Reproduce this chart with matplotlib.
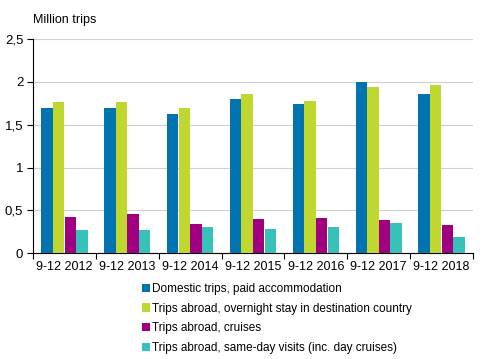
import numpy as np
import matplotlib.pyplot as plt
from matplotlib.ticker import FuncFormatter

plt.rcParams['font.family'] = ['Liberation Sans', 'DejaVu Sans']

# --- data (million trips) ---
periods = ['9-12 2012', '9-12 2013', '9-12 2014', '9-12 2015',
           '9-12 2016', '9-12 2017', '9-12 2018']
domestic = [1.70, 1.70, 1.63, 1.80, 1.74, 2.00, 1.86]
abroad_overnight = [1.77, 1.77, 1.70, 1.86, 1.78, 1.94, 1.96]
cruises = [0.42, 0.46, 0.34, 0.40, 0.41, 0.39, 0.33]
same_day = [0.27, 0.27, 0.31, 0.28, 0.31, 0.35, 0.19]

series_names = ['Domestic trips, paid accommodation',
                'Trips abroad, overnight stay in destination country',
                'Trips abroad, cruises',
                'Trips abroad, same-day visits (inc. day cruises)']
colors = ['#0073b0', '#c0d72f', '#a0007f', '#36c1b9']

fig = plt.figure(figsize=(4.91, 3.59), dpi=100)
ax = fig.add_axes([0.0672, 0.295, 0.896, 0.596])

x = np.arange(len(periods))
w = 0.185
all_series = [domestic, abroad_overnight, cruises, same_day]
for i, (vals, name, c) in enumerate(zip(all_series, series_names, colors)):
    ax.bar(x + (i - 1.5) * w, vals, width=w * 0.98, color=c, label=name, zorder=3)

ax.set_xlim(-0.5, len(periods) - 0.5)
ax.set_ylim(0, 2.5)
ax.set_yticks([0, 0.5, 1, 1.5, 2, 2.5])
ax.yaxis.set_major_formatter(FuncFormatter(lambda v, p: f'{v:g}'.replace('.', ',')))
ax.grid(axis='y', color='#d0d0d0', linewidth=0.8, zorder=0)

# category ticks at group boundaries, labels centered
ax.set_xticks(np.arange(-0.5, len(periods)), minor=False)
ax.set_xticklabels([])
ax.set_xticks(x, minor=True)
ax.set_xticklabels(periods, minor=True)
ax.tick_params(axis='x', which='minor', length=0, pad=6, labelsize=9)
ax.tick_params(axis='x', which='major', length=4, direction='out', color='black')
ax.tick_params(axis='y', length=4, direction='out', labelsize=9.5, pad=3)

for s in ['top', 'right']:
    ax.spines[s].set_visible(False)
ax.spines['left'].set_color('black')
ax.spines['bottom'].set_color('black')

fig.text(0.0672, 0.944, 'Million trips', fontsize=9, ha='left', va='center')

fig.legend(loc='upper left', bbox_to_anchor=(0.279, 0.225), frameon=False,
           fontsize=8.5, handlelength=0.7, handleheight=0.7, handletextpad=0.2,
           labelspacing=0.65, borderaxespad=0)

fig.savefig('out.png', dpi=100)
